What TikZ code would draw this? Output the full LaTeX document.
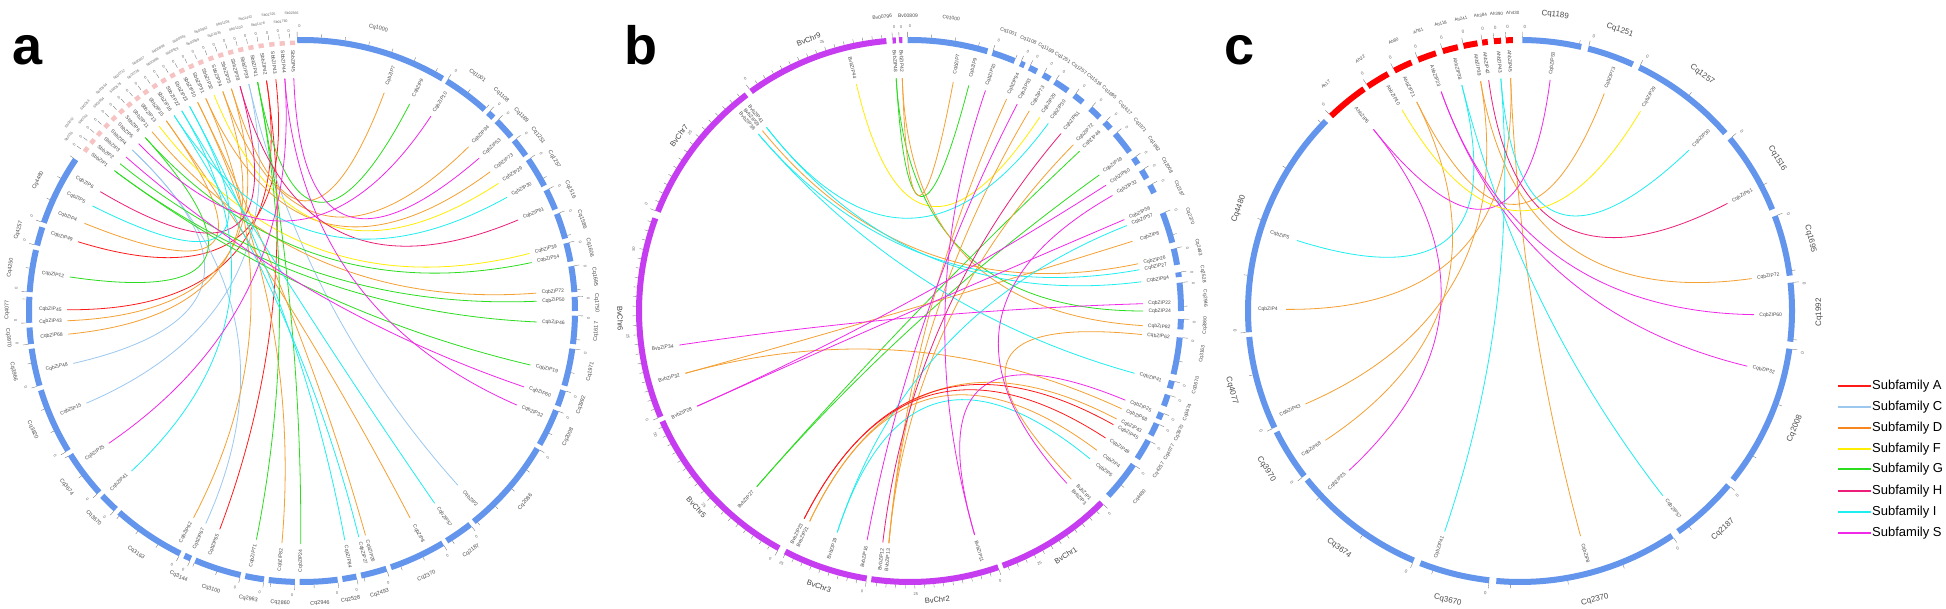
\documentclass[tikz,border=0pt]{standalone}
\usepackage{fontspec}
\setmainfont{Liberation Sans}
\usetikzlibrary{calc}
\definecolor{cA}{HTML}{FF1A1A}
\definecolor{cC}{HTML}{9CC8F0}
\definecolor{cD}{HTML}{F5A033}
\definecolor{cDl}{HTML}{F7861E}
\definecolor{cF}{HTML}{FFEE00}
\definecolor{cG}{HTML}{2BDD1E}
\definecolor{cH}{HTML}{EC1E79}
\definecolor{cI}{HTML}{1EEEF0}
\definecolor{cS}{HTML}{F028E8}
\definecolor{ringblue}{HTML}{6495ED}
\definecolor{ringbv}{HTML}{C63CF0}
\definecolor{ringah}{HTML}{FF0000}
\definecolor{sbpink}{HTML}{F6C2C2}

\newcommand\defpt[3]{\coordinate (#1) at ({\pcx+\prx*(#3)*sin(#2)},{\pcy+\pry*(#3)*cos(#2)});}
\newcommand\segL[6]{%
  \draw[ring,draw=#4] plot[domain=#2:#3,samples=30,variable=\vt] ({\pcx+\prx*sin(\vt)},{\pcy+\pry*cos(\vt)});
  \defpt{tA}{#2}{1.011}\defpt{tB}{#2}{1.03}
  \draw[tick] (tA) -- (tB);
  \pgfmathsetmacro\zrot{cos(#2)>-0.001 ? 0-(#2) : 180-(#2)}
  \defpt{tZ}{#2+0.5}{1.05}
  \node[zero,rotate=\zrot] (#1z) at (tZ) {0};
  \pgfmathtruncatemacro\ntk{(#3-(#2))/\tkstep}
  \ifnum\ntk>0
    \foreach \kk in {1,...,\ntk}{\defpt{tA}{#2+\kk*\tkstep}{1.011}\defpt{tB}{#2+\kk*\tkstep}{1.024}\draw[tick] (tA) -- (tB);}
  \fi
  \pgfmathsetmacro\segang{#6}
  \pgfmathsetmacro\segrot{cos(\segang)>-0.001 ? 0-(\segang) : 180-(\segang)}
  \defpt{tL}{\segang}{\seglr}
  \node[seglab,rotate=\segrot] (#1) at (tL) {#5};
}
\newcommand\seg[5]{\pgfmathsetmacro\segmid{(#2+#3)/2}\segL{#1}{#2}{#3}{#4}{#5}{\segmid}}
\newcommand\gene[3]{%
  \pgfmathsetmacro\gsin{sin(#2)}%
  \ifdim\gsin pt<0pt \pgfmathsetmacro\grot{270-(#2)}\def\ganc{west}\else \pgfmathsetmacro\grot{90-(#2)}\def\ganc{east}\fi
  \defpt{#1p}{#2}{\glr}
  \node[genelab,rotate=\grot,anchor=\ganc] (#1l) at (#1p) {#3};
  \defpt{#1}{#2}{\gend}}
\newcommand\sbseg[4]{%
  \defpt{tA}{#1-0.55}{0.99}\defpt{tB}{#1+0.55}{0.99}
  \draw[line width=4.5pt,draw=sbpink] (tA) -- (tB);
  \defpt{tA}{#1-0.55}{1.007}\defpt{tB}{#1-0.55}{1.025}
  \draw[tick] (tA) -- (tB);
  \pgfmathsetmacro\zrot{0-(#1)}
  \defpt{tZ}{#1-0.7}{1.035}
  \node[zero,rotate=\zrot] (aSz#4) at (tZ) {0};
  \defpt{tL}{#1}{#3}
  \node[sblab,rotate=\zrot] (aSs#4) at (tL) {#2};
  \gene{aSb#4}{#1}{SbbZIP#4}}
\newcommand\tlab[3]{\pgfmathsetmacro\zrot{cos(#2)>-0.001 ? 0-(#2) : 180-(#2)}\defpt{tT}{#2}{1.045}\node[zero,rotate=\zrot] (#1) at (tT) {#3};}
\newcommand\lnk[3]{\draw[link,draw=#1] (#2) .. controls ($(#2)!0.667!(\pc)$) and ($(#3)!0.667!(\pc)$) .. (#3);}

\begin{document}
\begin{tikzpicture}[x=1pt,y=1pt,
 ring/.style={line width=6pt},
 tick/.style={draw=black!55,line width=0.35pt},
 zero/.style={font=\fontsize{4}{4}\selectfont,text=black!60,inner sep=0pt},
 seglab/.style={font=\fontsize{5.5}{5.5}\selectfont,text=black!70,inner sep=0pt},
 sblab/.style={font=\fontsize{3.5}{3.5}\selectfont,text=black!60,inner sep=0pt},
 genelab/.style={font=\fontsize{5}{5}\selectfont,text=black!70,inner sep=0.3pt},
 link/.style={line width=0.8pt},
 legtxt/.style={font=\fontsize{13}{13}\selectfont,anchor=west,inner sep=0pt},
 legline/.style={line width=2.4pt},
 plab/.style={font=\fontsize{54}{54}\selectfont\bfseries,anchor=base west,inner sep=0pt}]
\useasboundingbox (0,0) rectangle (1946,608);
\fill[white] (0,0) rectangle (1946,608);

\node[plab] (labA) at (12,543) {a};
\node[plab] (labB) at (624,543) {b};
\node[plab] (labC) at (1224,543) {c};

% ================= panel a =================
\begin{scope}
\def\pcx{302}\def\pcy{297}\def\prx{273}\def\pry{271}\def\pc{aO}
\def\seglr{1.08}\def\tkstep{5}\def\glr{0.965}\def\gend{0.86}
\coordinate (aO) at (302,297);
\seg{aS1000}{-1}{31}{ringblue}{Cq1000}
\segL{aS1001}{32}{42}{ringblue}{Cq1001}{36.5}
\segL{aS1108}{43}{44.5}{ringblue}{Cq1108}{42.5}
\segL{aS1189}{45.5}{50}{ringblue}{Cq1189}{48}
\segL{aS1251}{51}{55}{ringblue}{Cq1251}{53.2}
\segL{aS1257}{56}{62.5}{ringblue}{Cq1257}{58.8}
\segL{aS1516}{63.5}{68}{ringblue}{Cq1516}{65.5}
\seg{aS1586}{69}{74.5}{ringblue}{Cq1586}
\seg{aS1606}{75.5}{79.5}{ringblue}{Cq1606}
\seg{aS1695}{80.5}{86}{ringblue}{Cq1695}
\seg{aS1750}{87}{90}{ringblue}{Cq1750}
\seg{aS1617}{91}{97}{ringblue}{Cq1617}
\seg{aS1971}{98}{106}{ringblue}{Cq1971}
\seg{aS1992}{107}{110.5}{ringblue}{Cq1992}
\seg{aS2008}{111.5}{119.5}{ringblue}{Cq2008}
\seg{aS2086}{120.5}{141}{ringblue}{Cq2086}
\seg{aS2187}{142}{148}{ringblue}{Cq2187}
\seg{aS2370}{149}{161}{ringblue}{Cq2370}
\seg{aS2493}{162}{167.5}{ringblue}{Cq2493}
\segL{aS2528}{168.5}{171.5}{ringblue}{Cq2528}{170.5}
\seg{aS2946}{172.5}{180.5}{ringblue}{Cq2946}
\seg{aS2860}{181.5}{187}{ringblue}{Cq2860}
\segL{aS2963}{188}{192}{ringblue}{Cq2963}{190.5}
\seg{aS3100}{193}{203}{ringblue}{Cq3100}
\seg{aS3144}{204}{205.5}{ringblue}{Cq3144}
\seg{aS3163}{206.5}{222}{ringblue}{Cq3163}
\seg{aS3670}{223}{227}{ringblue}{Cq3670}
\seg{aS3674}{228}{238}{ringblue}{Cq3674}
\seg{aS3820}{239}{253}{ringblue}{Cq3820}
\seg{aS3966}{254}{262}{ringblue}{Cq3966}
\seg{aS3970}{263}{266.5}{ringblue}{Cq3970}
\seg{aS4077}{267.5}{273}{ringblue}{Cq4077}
\seg{aS4250}{274}{283}{ringblue}{Cq4250}
\seg{aS4257}{284}{288}{ringblue}{Cq4257}
\seg{aS4480}{289}{304}{ringblue}{Cq4480}
\sbseg{307.0}{Sb0011}{1.07}{1}
\sbseg{309.2}{Sb0012}{1.10}{2}
\sbseg{311.4}{Sb0013}{1.07}{3}
\sbseg{313.7}{Sb0054}{1.10}{4}
\sbseg{315.9}{Sb00554}{1.07}{5}
\sbseg{318.1}{Sb00564}{1.10}{6}
\sbseg{320.3}{Sb00576}{1.07}{11}
\sbseg{322.5}{Sb00712}{1.10}{13}
\sbseg{324.7}{Sb00736}{1.07}{15}
\sbseg{327.0}{Sb00837}{1.10}{16}
\sbseg{329.2}{Sb00896}{1.07}{22}
\sbseg{331.4}{Sb00898}{1.10}{23}
\sbseg{333.6}{Sb00929}{1.07}{30}
\sbseg{335.8}{Sb00963}{1.10}{31}
\sbseg{338.0}{Sb00989}{1.07}{32}
\sbseg{340.3}{Sb00992}{1.10}{34}
\sbseg{342.5}{Sb01035}{1.07}{35}
\sbseg{344.7}{Sb01108}{1.10}{38}
\sbseg{346.9}{Sb01200}{1.07}{39}
\sbseg{349.1}{Sb01442}{1.10}{41}
\sbseg{351.3}{Sb01478}{1.07}{42}
\sbseg{353.6}{Sb01525}{1.10}{43}
\sbseg{355.8}{Sb01760}{1.07}{44}
\sbseg{358.0}{Sb02366}{1.10}{45}
\gene{aCq7}{20.5}{CqbZIP7}
\gene{aCq9}{27.3}{CqbZIP9}
\gene{aCq10}{33.3}{CqbZIP10}
\gene{aCq94}{45.2}{CqbZIP94}
\gene{aCq53}{49}{CqbZIP53}
\gene{aCq73}{53.3}{CqbZIP73}
\gene{aCq29}{56.8}{CqbZIP29}
\gene{aCq30}{60.8}{CqbZIP30}
\gene{aCq61}{67}{CqbZIP61}
\gene{aCq39}{75.7}{CqbZIP39}
\gene{aCq54}{78}{CqbZIP54}
\gene{aCq72}{85.6}{CqbZIP72}
\gene{aCq50}{87.6}{CqbZIP50}
\gene{aCq46}{92.7}{CqbZIP46}
\gene{aCq19}{103.4}{CqbZIP19}
\gene{aCq60}{109}{CqbZIP60}
\gene{aCq32}{113.8}{CqbZIP32}
\gene{aCq2}{138.4}{CqbZIP2}
\gene{aCq57}{145.6}{CqbZIP57}
\gene{aCq8}{152.6}{CqbZIP8}
\gene{aCq26}{164.3}{CqbZIP26}
\gene{aCq27}{166}{CqbZIP27}
\gene{aCq84}{169.5}{CqbZIP84}
\gene{aCq24}{180.3}{CqbZIP24}
\gene{aCq82}{184.9}{CqbZIP82}
\gene{aCq71}{191.2}{CqbZIP71}
\gene{aCq65}{200.5}{CqbZIP65}
\gene{aCq67}{204.2}{CqbZIP67}
\gene{aCq62}{207.5}{CqbZIP62}
\gene{aCq41}{226.6}{CqbZIP41}
\gene{aCq25}{235.4}{CqbZIP25}
\gene{aCq15}{246.7}{CqbZIP15}
\gene{aCq48}{257}{CqbZIP48}
\gene{aCq68}{264.3}{CqbZIP68}
\gene{aCq43}{267.6}{CqbZIP43}
\gene{aCq45}{270.3}{CqbZIP45}
\gene{aCq12}{278.4}{CqbZIP12}
\gene{aCq49}{287.3}{CqbZIP49}
\gene{aCq4}{292.1}{CqbZIP4}
\gene{aCq5}{296.8}{CqbZIP5}
\gene{aCq6}{300.8}{CqbZIP6}
\lnk{cA}{aSb42}{aCq45}
\lnk{cA}{aSb42}{aCq65}
\lnk{cA}{aSb43}{aCq49}
\lnk{cC}{aSb4}{aCq48}
\lnk{cC}{aSb4}{aCq67}
\lnk{cC}{aSb39}{aCq2}
\lnk{cC}{aSb39}{aCq15}
\lnk{cD}{aSb35}{aCq7}
\lnk{cD}{aSb34}{aCq94}
\lnk{cD}{aSb31}{aCq73}
\lnk{cD}{aSb11}{aCq72}
\lnk{cD}{aSb15}{aCq8}
\lnk{cD}{aSb30}{aCq26}
\lnk{cD}{aSb30}{aCq82}
\lnk{cD}{aSb31}{aCq62}
\lnk{cD}{aSb34}{aCq68}
\lnk{cD}{aSb35}{aCq43}
\lnk{cD}{aSb15}{aCq4}
\lnk{cF}{aSb32}{aCq29}
\lnk{cF}{aSb13}{aCq39}
\lnk{cG}{aSb41}{aCq9}
\lnk{cG}{aSb41}{aCq24}
\lnk{cG}{aSb41}{aCq71}
\lnk{cG}{aSb6}{aCq12}
\lnk{cG}{aSb6}{aCq54}
\lnk{cG}{aSb1}{aCq46}
\lnk{cG}{aSb1}{aCq19}
\lnk{cG}{aSb2}{aCq50}
\lnk{cH}{aSb38}{aCq61}
\lnk{cH}{aSb38}{aCq6}
\lnk{cI}{aSb16}{aCq30}
\lnk{cI}{aSb22}{aCq57}
\lnk{cI}{aSb23}{aCq84}
\lnk{cI}{aSb16}{aCq27}
\lnk{cI}{aSb22}{aCq41}
\lnk{cI}{aSb23}{aCq5}
\lnk{cS}{aSb5}{aCq10}
\lnk{cS}{aSb3}{aCq60}
\lnk{cS}{aSb44}{aCq32}
\lnk{cS}{aSb45}{aCq53}
\lnk{cS}{aSb44}{aCq25}
\end{scope}

% ================= panel b =================
\begin{scope}[seglab/.style={font=\fontsize{5}{5}\selectfont,text=black!70,inner sep=0pt}]
\def\pcx{910}\def\pcy{297}\def\prx{271}\def\pry{271}\def\pc{bO}
\def\seglr{1.09}\def\tkstep{5}\def\glr{0.965}\def\gend{0.86}
\coordinate (bO) at (910,297);
\segL{bSv796}{356.3}{357}{ringbv}{Bv00796}{354.6}
\segL{bSv809}{357.7}{358.4}{ringbv}{Bv00809}{359.6}
\segL{bS1000}{-0.5}{16.6}{ringblue}{Cq1000}{8}
\segL{bS1001}{17.7}{22.7}{ringblue}{Cq1001}{19.5}
\segL{bS1108}{24}{25}{ringblue}{Cq1108}{23.6}
\segL{bS1189}{26.1}{27.9}{ringblue}{Cq1189}{27.4}
\segL{bS1251}{29.4}{31.1}{ringblue}{Cq1251}{31.1}
\segL{bS1257}{32.3}{35.6}{ringblue}{Cq1257}{34.9}
\segL{bS1516}{37.3}{39.6}{ringblue}{Cq1516}{38.6}
\segL{bS1695}{41.7}{44.4}{ringblue}{Cq1695}{42.4}
\segL{bS1617}{45.9}{47.7}{ringblue}{Cq1617}{46.7}
\segL{bS1971}{49.2}{54.1}{ringblue}{Cq1971}{51.1}
\segL{bS1992}{55.6}{57.2}{ringblue}{Cq1992}{55.6}
\segL{bS2008}{58.7}{60.8}{ringblue}{Cq2008}{60.5}
\segL{bS2187}{62.3}{64.2}{ringblue}{Cq2187}{65.6}
\segL{bS2370}{68.8}{75.4}{ringblue}{Cq2370}{71.3}
\segL{bS2493}{76.7}{80.2}{ringblue}{Cq2493}{77.6}
\segL{bS2528}{81.8}{82.8}{ringblue}{Cq2528}{82.8}
\segL{bS2946}{84}{90}{ringblue}{Cq2946}{87.6}
\segL{bS2860}{91.7}{93.9}{ringblue}{Cq2860}{92.8}
\segL{bS3163}{95.6}{103.5}{ringblue}{Cq3163}{98.4}
\segL{bS3670}{104.9}{106.6}{ringblue}{Cq3670}{104.6}
\segL{bS3674}{108}{110.5}{ringblue}{Cq3674}{110.1}
\segL{bS3970}{112}{113.5}{ringblue}{Cq3970}{114.4}
\segL{bS4077}{114.5}{117.3}{ringblue}{Cq4077}{118.6}
\segL{bS4257}{118.5}{123}{ringblue}{Cq4257}{122.6}
\segL{bS4480}{124.5}{133}{ringblue}{Cq4480}{129}
\begin{scope}[seglab/.style={font=\fontsize{7.5}{7.5}\selectfont,text=black!75,inner sep=0pt}]
\def\seglr{1.07}\def\tkstep{2}
\seg{bC1}{135}{160}{ringbv}{BvChr1}
\seg{bC2}{161}{188.2}{ringbv}{BvChr2}
\seg{bC3}{189.2}{207.4}{ringbv}{BvChr3}
\seg{bC5}{208.9}{246}{ringbv}{BvChr5}
\seg{bC6}{247}{290}{ringbv}{BvChr6}
\seg{bC7}{291.5}{322.9}{ringbv}{BvChr7}
\seg{bC9}{324.1}{355}{ringbv}{BvChr9}
\end{scope}
\tlab{bt1}{152.8}{25}
\tlab{bt2}{178.8}{25}
\tlab{bt3}{207}{25}
\tlab{bt4}{226.7}{25}
\tlab{bt5}{244}{50}
\tlab{bt6}{264.8}{25}
\tlab{bt7}{282.6}{50}
\tlab{bt8}{309}{25}
\tlab{bt9}{341.9}{25}
\gene{bCq7}{10.7}{CqbZIP7}
\gene{bCq9}{14.6}{CqbZIP9}
\gene{bCq10}{18.9}{CqbZIP10}
\gene{bCq94}{24.5}{CqbZIP94}
\gene{bCq53}{27.4}{CqbZIP53}
\gene{bCq73}{30.8}{CqbZIP73}
\gene{bCq29}{33.8}{CqbZIP29}
\gene{bCq30}{36.4}{CqbZIP30}
\gene{bCq61}{40.4}{CqbZIP61}
\gene{bCq72}{44.5}{CqbZIP72}
\gene{bCq46}{46.7}{CqbZIP46}
\gene{bCq19}{54.3}{CqbZIP19}
\gene{bCq60}{57.3}{CqbZIP60}
\gene{bCq32}{60.3}{CqbZIP32}
\gene{bCq56}{66.9}{CqbZIP56}
\gene{bCq57}{68.5}{CqbZIP57}
\gene{bCq8}{72.6}{CqbZIP8}
\gene{bCq26}{78.3}{CqbZIP26}
\gene{bCq27}{79.8}{CqbZIP27}
\gene{bCq84}{82.8}{CqbZIP84}
\gene{bCq22}{88.2}{CqbZIP22}
\gene{bCq24}{90}{CqbZIP24}
\gene{bCq82}{93.6}{CqbZIP82}
\gene{bCq62}{95.8}{CqbZIP62}
\gene{bCq41}{105.5}{CqbZIP41}
\gene{bCq25}{112.5}{CqbZIP25}
\gene{bCq68}{114.8}{CqbZIP68}
\gene{bCq43}{117.6}{CqbZIP43}
\gene{bCq45}{119.2}{CqbZIP45}
\gene{bCq49}{123}{CqbZIP49}
\gene{bCq4}{126.7}{CqbZIP4}
\gene{bCq5}{129.4}{CqbZIP5}
\gene{bBv44}{346.7}{BvbZIP44}
\gene{bBv48}{356.6}{BvbZIP48}
\gene{bBv42}{358.1}{BvbZIP42}
\gene{bBv41}{322}{BvbZIP41}
\gene{bBv39}{320.7}{BvbZIP39}
\gene{bBv38}{319.4}{BvbZIP38}
\gene{bBv34}{261.6}{BvbZIP34}
\gene{bBv32}{254.5}{BvbZIP32}
\gene{bBv28}{245.9}{BvbZIP28}
\gene{bBv27}{221.1}{BvbZIP27}
\gene{bBv23}{207}{BvbZIP23}
\gene{bBv21}{205.5}{BvbZIP21}
\gene{bBv19}{198.2}{BvbZIP19}
\gene{bBv16}{190.6}{BvbZIP16}
\gene{bBv12}{186.7}{BvbZIP12}
\gene{bBv13}{185.2}{BvbZIP13}
\gene{bBv11}{163.9}{BvbZIP11}
\gene{bBv1}{136.2}{BvbZIP1}
\gene{bBv3}{137.7}{BvbZIP3}
\lnk{cF}{bBv44}{bCq29}
\lnk{cG}{bBv48}{bCq9}
\lnk{cG}{bBv48}{bCq24}
\lnk{cG}{bBv27}{bCq19}
\lnk{cG}{bBv27}{bCq46}
\lnk{cD}{bBv42}{bCq7}
\lnk{cD}{bBv42}{bCq82}
\lnk{cD}{bBv39}{bCq26}
\lnk{cD}{bBv32}{bCq8}
\lnk{cD}{bBv32}{bCq68}
\lnk{cD}{bBv21}{bCq43}
\lnk{cD}{bBv21}{bCq4}
\lnk{cD}{bBv13}{bCq94}
\lnk{cD}{bBv13}{bCq73}
\lnk{cD}{bBv13}{bCq72}
\lnk{cD}{bBv1}{bCq62}
\lnk{cI}{bBv41}{bCq30}
\lnk{cI}{bBv41}{bCq84}
\lnk{cI}{bBv38}{bCq41}
\lnk{cI}{bBv38}{bCq27}
\lnk{cI}{bBv19}{bCq57}
\lnk{cI}{bBv19}{bCq5}
\lnk{cS}{bBv34}{bCq22}
\lnk{cS}{bBv28}{bCq56}
\lnk{cS}{bBv28}{bCq60}
\lnk{cS}{bBv16}{bCq53}
\lnk{cS}{bBv11}{bCq10}
\lnk{cS}{bBv11}{bCq25}
\lnk{cS}{bBv3}{bCq32}
\lnk{cH}{bBv12}{bCq61}
\lnk{cA}{bBv23}{bCq45}
\lnk{cA}{bBv23}{bCq49}
\end{scope}

% ================= panel c =================
\begin{scope}[seglab/.style={font=\fontsize{8}{8}\selectfont,text=black!70,inner sep=0pt},
  zero/.style={font=\fontsize{4.5}{4.5}\selectfont,text=black!60,inner sep=0pt}]
\def\pcx{1520}\def\pcy{297}\def\prx{272}\def\pry{271}\def\pc{cO}
\def\seglr{1.1}\def\tkstep{12}\def\glr{0.965}\def\gend{0.86}
\coordinate (cO) at (1520,297);
\seg{cS1189}{0.5}{13}{ringblue}{Cq1189}
\seg{cS1251}{14.5}{24.5}{ringblue}{Cq1251}
\seg{cS1257}{26}{49}{ringblue}{Cq1257}
\seg{cS1516}{50.5}{68}{ringblue}{Cq1516}
\seg{cS1695}{69.5}{82.5}{ringblue}{Cq1695}
\seg{cS1992}{84}{96.5}{ringblue}{Cq1992}
\seg{cS2008}{98}{128.5}{ringblue}{Cq2008}
\seg{cS2187}{130}{144.5}{ringblue}{Cq2187}
\seg{cS2370}{146}{185}{ringblue}{Cq2370}
\seg{cS3670}{186.5}{201.5}{ringblue}{Cq3670}
\seg{cS3674}{203}{231.5}{ringblue}{Cq3674}
\seg{cS3970}{232.5}{243.5}{ringblue}{Cq3970}
\seg{cS4077}{244.5}{264.5}{ringblue}{Cq4077}
\seg{cS4480}{265.5}{314.5}{ringblue}{Cq4480}
\begin{scope}[seglab/.style={font=\fontsize{4.5}{4.5}\selectfont,text=black!70,inner sep=0pt}]
\def\seglr{1.1}
\segL{cA17}{316}{325}{ringah}{Ah17}{319.5}
\segL{cA22}{326}{331}{ringah}{Ah22}{327.7}
\segL{cA80}{332.5}{336.5}{ringah}{Ah80}{335}
\segL{cA81}{338}{342}{ringah}{Ah81}{340.1}
\segL{cA118}{343.5}{346.8}{ringah}{Ah118}{344.6}
\segL{cA241}{348}{351}{ringah}{Ah241}{348.6}
\segL{cA384}{352}{353.2}{ringah}{Ah384}{352.4}
\segL{cA390}{354.5}{356}{ringah}{Ah390}{355.5}
\segL{cA430}{357}{358.5}{ringah}{Ah430}{358.6}
\end{scope}
\gene{cAh45}{357.7}{AhbZIP45}
\gene{cAh43}{355.3}{AhbZIP43}
\gene{cAh42}{352.3}{AhbZIP42}
\gene{cAh39}{350.3}{AhbZIP39}
\gene{cAh38}{345.6}{AhbZIP38}
\gene{cAh23}{340.3}{AhbZIP23}
\gene{cAh21}{333.8}{AhbZIP21}
\gene{cAh10}{329.7}{AhbZIP10}
\gene{cAh6}{321.2}{AhbZIP6}
\gene{cCq53}{7.4}{CqbZIP53}
\gene{cCq73}{21.1}{CqbZIP73}
\gene{cCq29}{31}{CqbZIP29}
\gene{cCq30}{46.3}{CqbZIP30}
\gene{cCq61}{62.5}{CqbZIP61}
\gene{cCq72}{82}{CqbZIP72}
\gene{cCq60}{90.9}{CqbZIP60}
\gene{cCq32}{103.7}{CqbZIP32}
\gene{cCq57}{142.4}{CqbZIP57}
\gene{cCq8}{165}{CqbZIP8}
\gene{cCq41}{198.8}{CqbZIP41}
\gene{cCq25}{226.9}{CqbZIP25}
\gene{cCq68}{236.3}{CqbZIP68}
\gene{cCq43}{246.5}{CqbZIP43}
\gene{cCq4}{270.4}{CqbZIP4}
\gene{cCq5}{287.6}{CqbZIP5}
\lnk{cD}{cAh45}{cCq8}
\lnk{cD}{cAh45}{cCq4}
\lnk{cD}{cAh39}{cCq72}
\lnk{cD}{cAh39}{cCq43}
\lnk{cD}{cAh21}{cCq73}
\lnk{cD}{cAh21}{cCq68}
\lnk{cI}{cAh43}{cCq41}
\lnk{cI}{cAh43}{cCq30}
\lnk{cI}{cAh38}{cCq5}
\lnk{cI}{cAh38}{cCq57}
\lnk{cH}{cAh42}{cCq61}
\lnk{cS}{cAh23}{cCq60}
\lnk{cS}{cAh23}{cCq32}
\lnk{cS}{cAh6}{cCq53}
\lnk{cS}{cAh6}{cCq25}
\lnk{cF}{cAh10}{cCq29}
\end{scope}

% ================= legend =================
\foreach \nm/\col/\yy in {A/cA/222, C/cC/201, D/cDl/180, F/cF/159, G/cG/139, H/cH/117, I/cI/96, S/cS/75}{
  \draw[legline,draw=\col] (1838,\yy) -- (1871,\yy);
  \node[legtxt] (leg\nm) at (1872,\yy) {Subfamily \nm};
}
\end{tikzpicture}
\end{document}
